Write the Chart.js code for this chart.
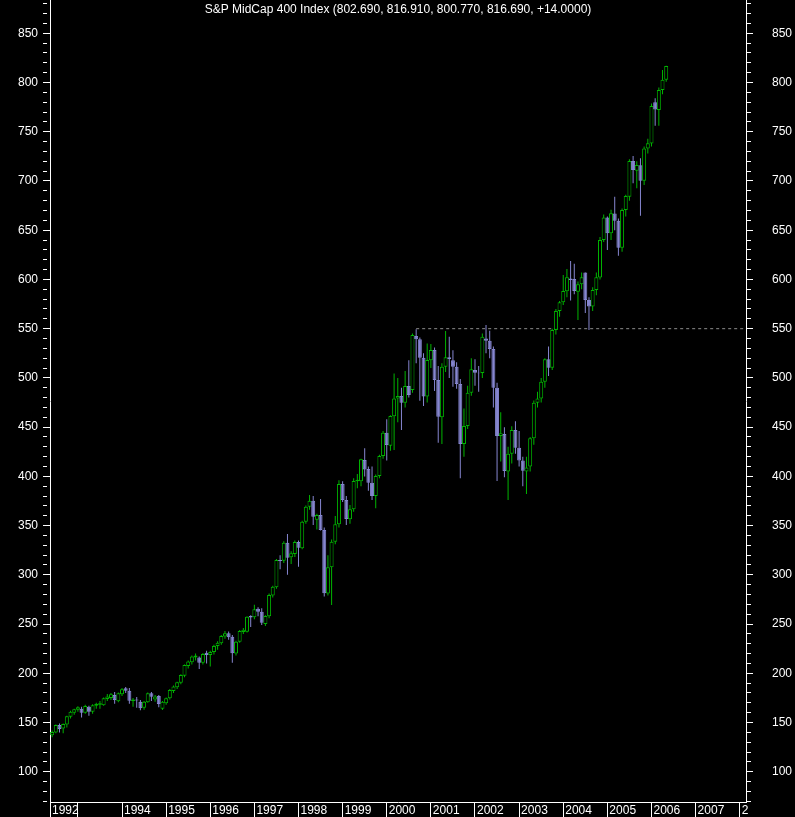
<!DOCTYPE html>
<html>
<head>
<meta charset="utf-8">
<script src="https://cdn.jsdelivr.net/npm/chart.js@4.4.1/dist/chart.umd.min.js"></script>
<style>
  html, body { margin: 0; padding: 0; background: #000; }
  #chart { display: block; background: #000; }
</style>
</head>
<body>
<canvas id="chart" width="795" height="817"></canvas>
<script>
// S&P MidCap 400, monthly candles from June 1992 to May 2006
const titleText = "S&P MidCap 400 Index (802.690, 816.910, 800.770, 816.690, +14.0000)";
const firstMonth = [1992, 6];

const opens = [
  137, 140, 147.5, 144, 148, 156, 160,
  163, 164, 160, 166, 161, 167, 168, 167.5, 174, 175, 178, 171.5,
  178.7, 184.8, 182.4, 172, 173.5, 171.2, 165, 170.6, 179.7, 173.5, 177, 164,
  169.5, 174.6, 182, 185.8, 190.5, 197.6, 207.5, 211.2, 216, 216, 210.8, 221,
  218.5, 221.6, 227.8, 230.5, 237.5, 240.6, 237, 220, 232, 242, 242.3, 258.2,
  257, 265.6, 262.6, 250.1, 258, 279, 287.3, 315, 314.4, 332.7, 317.9, 321.2,
  333.3, 327, 354, 369.2, 375.3, 356, 360.8, 345.5, 281, 307.6, 333.7, 351.3,
  392.2, 376, 356.4, 366.5, 395, 395, 416.6, 407.4, 393.6, 380, 400.4, 420.7,
  444.4, 431, 461, 479, 481.6, 474.8, 491.8, 487.7, 542.5, 539.2, 520.5, 481,
  518, 528.3, 497.9, 460, 511.4, 520.9, 518, 511.4, 493.8, 432.9, 451.2, 485,
  508, 505.3, 505, 540, 537.8, 529.4, 490, 441, 443, 405, 423, 447,
  429, 416, 405, 410, 438.6, 474.8, 479, 496, 518.9, 510.4, 548.7, 568,
  576.8, 588, 601, 600.5, 587.6, 595, 607, 579, 572.4, 589.3, 602, 640,
  663, 646.8, 667, 659.7, 632.3, 670.5, 684, 720.3, 710.5, 716, 700.3, 733,
  738, 780, 772, 792.4, 802.69
];
const highs = [
  142, 148, 149, 149, 157, 162, 164,
  166.5, 166, 168, 167, 168.5, 170, 172, 175.5, 179, 180, 181, 180.5,
  185, 186, 185, 175, 176, 173, 172, 180.5, 181, 178, 178, 172,
  175.5, 184, 187.5, 191.5, 199, 209, 213, 218, 220, 217, 220.5, 223,
  223, 229, 232.5, 239, 243, 242.5, 239, 233, 244, 246, 258, 259,
  269.5, 267, 266, 259, 281, 289, 316, 320, 334, 341.4, 324, 335,
  335, 355, 370.5, 381, 380, 362, 377, 348, 320, 336, 359.7, 396,
  395, 380, 371, 398, 402.4, 418, 428.5, 410, 410, 402, 422, 446,
  458, 462, 504.6, 500, 490, 507, 518, 545, 549.3, 541, 525, 535,
  534.4, 531, 512, 515, 547.6, 541.9, 528, 516, 499, 469, 492, 520,
  519, 512, 545, 553.7, 548, 532, 495, 465, 450, 430, 451, 456,
  446, 420, 420, 440, 477, 486, 500, 520, 532, 550, 570, 578,
  604.5, 610.6, 618.7, 616, 598, 607, 607, 582, 592, 607, 643, 666,
  664, 670.9, 684, 662, 672, 686, 722, 725.4, 720, 723, 735, 743,
  778.8, 784, 795, 812.7, 816.91
];
const lows = [
  135, 139, 140, 139, 145, 154, 158,
  161, 155, 159, 157, 159, 164, 164, 167, 172, 173, 169, 170.5,
  177, 180, 169, 166, 165, 162.5, 163, 170, 172, 171, 165.5, 162.8,
  168, 173.5, 180, 184, 189, 196, 205, 209, 213, 204.4, 209, 210,
  207, 219, 224, 229, 235, 234, 210.8, 218, 231, 240, 241.5, 247,
  255, 258, 249, 248, 256, 277, 286, 305.6, 312, 300.2, 311, 318,
  308.3, 326, 352, 366, 350.6, 346, 345, 278, 279, 269.4, 331, 348,
  374, 350.6, 352, 364, 388, 390, 400, 385.5, 376, 367.6, 398, 418,
  416, 426, 426.8, 455, 447, 470, 480, 485, 514.8, 476.9, 471.5, 475,
  510, 486.7, 434.2, 433, 506, 500, 491, 489, 398, 420, 448, 482,
  492, 486, 500, 525, 520, 470, 395.3, 415, 399, 376, 413, 423,
  410, 390, 382, 405, 432, 470, 475, 490, 502, 508, 544, 562,
  574, 582, 578.5, 585, 558.8, 590, 566, 548.7, 568, 584, 600, 638,
  630, 640, 650, 624, 628, 664, 680, 697.6, 692.5, 664.8, 696, 728,
  735, 756, 756, 788, 800.77
];
const closes = [
  140.5, 147.5, 143.5, 148.5, 156.5, 161, 163.5,
  165.5, 160, 166.8, 161, 167.5, 169, 169.5, 174.6, 176.5, 178.7, 173, 179.7,
  183.8, 182.4, 172.2, 173.5, 172.5, 164.5, 171.2, 179.7, 176.3, 176.5, 168.9, 171,
  174.6, 183, 186.5, 190.9, 198.3, 208.5, 211.9, 217, 218, 210.8, 219.6, 218.6,
  221.6, 227.8, 231, 237.9, 240.6, 236.5, 220.3, 232, 243, 244.3, 257.5, 256.8,
  265, 262.6, 251.4, 258.2, 279.5, 288, 315.1, 314, 332.7, 317.4, 322, 333.3,
  327.6, 354, 369.2, 375.3, 359, 360.8, 345.5, 281.2, 307.6, 333.7, 351.3, 392.2,
  376, 356.7, 366.5, 395.3, 396.5, 417.3, 407.1, 393.6, 380, 400.4, 420.7, 444.4,
  431.9, 461.3, 479.2, 481.6, 474.8, 491.8, 482.6, 543.6, 539.2, 520.5, 481, 518.2,
  528.3, 497.9, 460.6, 511.4, 520.9, 519.2, 511.4, 493.8, 432.9, 451.2, 485, 508.7,
  505.3, 504.8, 541.9, 537.8, 529.4, 490.1, 441, 443.7, 405.5, 423, 447, 429,
  416, 405.6, 409, 438.6, 474.8, 479.2, 496.2, 518.9, 510.4, 548.7, 568, 576.8,
  588.3, 602.2, 599.4, 588.3, 595, 602.2, 579.1, 572.4, 589.3, 602.2, 640.1, 663,
  646.8, 667.2, 659.7, 632.3, 670.5, 684.7, 720.3, 711.1, 716.2, 700.3, 733.1, 738.2,
  776.1, 772.7, 792.4, 802.69, 816.69
];

// resistance line drawn from the September 2000 high
const resistanceLevel = 550;
const resistanceStart = 2000 + 8 / 12;

// axis ranges and tick labels
const xMin = 1992.368, xMax = 2008.142;
const yMin = 69.3, yMax = 883.8;
const xTickValues = [1992.368, 1993, 1994, 1995, 1996, 1997, 1998, 1999, 2000, 2001, 2002, 2003, 2004, 2005, 2006, 2007, 2008];
const xTickLabels = ["1992", "", "1994", "1995", "1996", "1997", "1998", "1999", "2000", "2001", "2002", "2003", "2004", "2005", "2006", "2007", "2"];
const yTickValues = [];
for (let v = 70; v <= 880; v += 10) yTickValues.push(v);

const GREEN = "#00b400";
const PURPLE = "#8686d0";

// month of each candle as a decimal year
const dates = opens.map((_, i) => {
  const m = firstMonth[1] - 1 + i;
  return firstMonth[0] + Math.floor(m / 12) + (m % 12) / 12;
});
const isUp = closes.map((c, i) => c >= opens[i]);

const isMajor = v => v % 50 === 0;
const yLabel = v => (isMajor(v) && v >= 100 && v <= 850) ? String(v) : "";

// title sits inside the plot area
const titlePlugin = {
  id: "topTitle",
  afterDraw(chart) {
    const { ctx, chartArea } = chart;
    ctx.save();
    ctx.font = "12px 'Liberation Sans', Arial, sans-serif";
    ctx.fillStyle = "#fff";
    ctx.textAlign = "center";
    ctx.textBaseline = "middle";
    ctx.fillText(titleText, (chartArea.left + chartArea.right) / 2, 10);
    ctx.restore();
  }
};

Chart.defaults.font.family = "'Liberation Sans', Arial, sans-serif";
Chart.defaults.font.size = 12;
Chart.defaults.color = "#fff";

const yAxis = (position, width, padding) => ({
  type: "linear",
  position: position,
  min: yMin,
  max: yMax,
  afterBuildTicks: s => { s.ticks = yTickValues.map(v => ({ value: v })); },
  afterFit: s => { s.width = width; s.paddingTop = 0; s.paddingBottom = 0; },
  grid: {
    drawOnChartArea: false,
    color: "#fff",
    tickLength: 7,
    tickBorderDash: c => (c.tick && isMajor(c.tick.value)) ? [] : [4, 20]
  },
  border: { color: "#fff" },
  ticks: { autoSkip: false, padding: padding, color: "#fff", callback: v => yLabel(v) }
});

const ctx = document.getElementById("chart").getContext("2d");
const chart = new Chart(ctx, {
  type: "bar",
  data: {
    datasets: [
      {
        label: "Body",
        data: dates.map((x, i) => ({ x: x, y: [opens[i], closes[i]] })),
        grouped: false,
        order: 0,
        barThickness: 4,
        borderWidth: 1,
        borderSkipped: false,
        inflateAmount: 0,
        backgroundColor: isUp.map(u => u ? "#000" : PURPLE),
        borderColor: isUp.map(u => u ? GREEN : PURPLE)
      },
      {
        label: "Wick",
        data: dates.map((x, i) => ({ x: x, y: [lows[i], highs[i]] })),
        grouped: false,
        order: 1,
        barThickness: 1,
        borderWidth: 0,
        inflateAmount: 0,
        backgroundColor: isUp.map(u => u ? GREEN : PURPLE)
      },
      {
        type: "line",
        label: "Resistance",
        data: [{ x: resistanceStart, y: resistanceLevel }, { x: xMax, y: resistanceLevel }],
        order: 2,
        borderColor: "#8c8c8c",
        borderWidth: 1,
        borderDash: [3, 3],
        pointRadius: 0,
        fill: false
      }
    ]
  },
  options: {
    responsive: false,
    animation: false,
    events: [],
    layout: { padding: 0, autoPadding: false },
    plugins: { legend: { display: false }, tooltip: { enabled: false }, title: { display: false } },
    scales: {
      x: {
        type: "linear",
        min: xMin,
        max: xMax,
        offset: false,
        afterBuildTicks: s => { s.ticks = xTickValues.map(v => ({ value: v })); },
        afterFit: s => { s.height = 15; s.paddingLeft = 0; s.paddingRight = 0; },
        grid: { drawOnChartArea: false, offset: false, color: "#fff", tickLength: 15 },
        border: { color: "#fff" },
        ticks: {
          autoSkip: false,
          maxRotation: 0,
          align: "start",
          labelOffset: 2,
          padding: -14,
          color: "#fff",
          callback: (v, i) => xTickLabels[i]
        }
      },
      y: yAxis("left", 50, 5),
      y2: yAxis("right", 49, 19)
    }
  },
  plugins: [titlePlugin]
});
</script>
</body>
</html>
